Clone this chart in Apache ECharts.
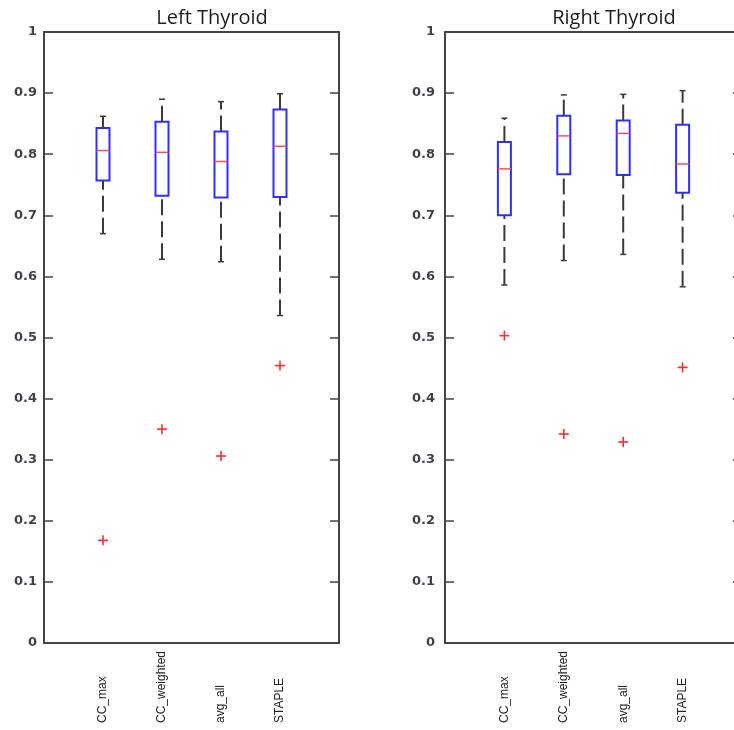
<!DOCTYPE html>
<html>
<head>
<meta charset="utf-8">
<script src="https://cdn.jsdelivr.net/npm/echarts@6/dist/echarts.min.js"></script>
<style>
  html, body { margin: 0; padding: 0; background: #fff; }
  #chart { width: 734px; height: 730px; }
</style>
</head>
<body>
<div id="chart"></div>
<script>
// categories on the x axis (placed at 1..4, axis runs 0..5)
var categories = ["CC_max", "CC_weighted", "avg_all", "STAPLE"];
var yTicks = [0, 0.1, 0.2, 0.3, 0.4, 0.5, 0.6, 0.7, 0.8, 0.9, 1];

// Left Thyroid
var leftMin = [0.670, 0.628, 0.624, 0.536];
var leftQ1 = [0.757, 0.732, 0.729, 0.730];
var leftMed = [0.806, 0.803, 0.788, 0.813];
var leftQ3 = [0.843, 0.853, 0.837, 0.873];
var leftMax = [0.862, 0.890, 0.886, 0.899];
var leftOut = [0.168, 0.350, 0.306, 0.454];

// Right Thyroid
var rightMin = [0.586, 0.626, 0.636, 0.583];
var rightQ1 = [0.700, 0.767, 0.766, 0.737];
var rightMed = [0.776, 0.830, 0.834, 0.784];
var rightQ3 = [0.820, 0.863, 0.855, 0.848];
var rightMax = [0.859, 0.897, 0.898, 0.904];
var rightOut = [0.503, 0.342, 0.329, 0.451];

var frameColor = "#444";
var boxColor = "#2e2eff";
var medColor = "#ff4d4d";
var whiskColor = "#3a3a3a";

function boxData(mins, q1, med, q3, maxs) {
  return categories.map(function (c, i) {
    return [i + 1, mins[i], q1[i], med[i], q3[i], maxs[i]];
  });
}

function outData(vals) {
  return vals.map(function (v, i) { return [i + 1, v]; });
}

function renderBox(params, api) {
  var xv = api.value(0);
  var x = api.coord([xv, 0])[0];
  var yMin = api.coord([xv, api.value(1)])[1];
  var yQ1 = api.coord([xv, api.value(2)])[1];
  var yMed = api.coord([xv, api.value(3)])[1];
  var yQ3 = api.coord([xv, api.value(4)])[1];
  var yMax = api.coord([xv, api.value(5)])[1];
  var hw = 6.5;
  var whisk = { stroke: whiskColor, lineWidth: 2, lineDash: [16, 6] };
  var cap = { stroke: whiskColor, lineWidth: 1.5 };
  return {
    type: "group",
    children: [
      { type: "line", shape: { x1: x, y1: yMin, x2: x, y2: yQ1 }, style: whisk },
      { type: "line", shape: { x1: x, y1: yQ3, x2: x, y2: yMax }, style: whisk },
      { type: "line", shape: { x1: x - 3, y1: yMin, x2: x + 3, y2: yMin }, style: cap },
      { type: "line", shape: { x1: x - 3, y1: yMax, x2: x + 3, y2: yMax }, style: cap },
      { type: "rect", shape: { x: x - hw, y: yQ3, width: hw * 2, height: yQ1 - yQ3 },
        style: { fill: "none", stroke: boxColor, lineWidth: 2 } },
      { type: "line", shape: { x1: x - hw, y1: yMed, x2: x + hw, y2: yMed },
        style: { stroke: medColor, lineWidth: 1.5 } }
    ]
  };
}

function renderPlus(params, api) {
  var p = api.coord([api.value(0), api.value(1)]);
  var s = { stroke: "#ff2a2a", lineWidth: 1.6 };
  return {
    type: "group",
    children: [
      { type: "line", shape: { x1: p[0] - 5, y1: p[1], x2: p[0] + 5, y2: p[1] }, style: s },
      { type: "line", shape: { x1: p[0], y1: p[1] - 5, x2: p[0], y2: p[1] + 5 }, style: s }
    ]
  };
}

function xAxisFor(idx) {
  return {
    type: "value", gridIndex: idx, min: 0, max: 5, interval: 1,
    axisLine: { show: false }, axisTick: { show: false }, splitLine: { show: false },
    axisLabel: {
      rotate: 90, align: "left", verticalAlign: "middle", margin: 80,
      fontFamily: "'Liberation Sans Narrow', 'Arial Narrow', 'Liberation Sans', sans-serif",
      fontSize: 12, color: "#222",
      formatter: function (v) { return categories[v - 1] || ""; }
    }
  };
}

function yAxisFor(idx, margin) {
  return [{
    type: "value", gridIndex: idx, min: 0, max: 1, interval: 0.1,
    axisLine: { show: false },
    axisTick: { show: true, inside: true, length: 9, lineStyle: { color: frameColor, width: 1.5 } },
    splitLine: { show: false },
    axisLabel: {
      margin: margin, fontFamily: "DejaVu Sans", fontWeight: "bold", fontSize: 13, color: "#41414c",
      formatter: function (v) { return yTicks.indexOf(Math.round(v * 10) / 10) >= 0 ? String(Math.round(v * 10) / 10) : ""; }
    }
  }, {
    type: "value", gridIndex: idx, min: 0, max: 1, interval: 0.1, position: "right",
    axisLine: { show: false },
    axisTick: { show: true, inside: true, length: 9, lineStyle: { color: frameColor, width: 1.5 } },
    splitLine: { show: false }, axisLabel: { show: false }
  }];
}

var chart = echarts.init(document.getElementById("chart"), null, { renderer: "canvas" });

var option = {
  animation: false,
  backgroundColor: "#fff",
  title: [
    { text: "Left Thyroid", left: 207, top: 3, textAlign: "center",
      textStyle: { fontFamily: "Open Sans", fontSize: 20, fontWeight: 500, color: "#1e1e1e" } },
    { text: "Right Thyroid", left: 609, top: 3, textAlign: "center",
      textStyle: { fontFamily: "Open Sans", fontSize: 20, fontWeight: 500, color: "#1e1e1e" } }
  ],
  grid: [
    { left: 44, top: 32, width: 295, height: 611, show: true, borderColor: frameColor, borderWidth: 2,
      backgroundColor: "transparent", outerBoundsMode: "none" },
    { left: 445, top: 32, width: 297, height: 611, show: true, borderColor: frameColor, borderWidth: 2,
      backgroundColor: "transparent", outerBoundsMode: "none" }
  ],
  xAxis: [xAxisFor(0), xAxisFor(1)],
  yAxis: yAxisFor(0, 7).concat(yAxisFor(1, 10)),
  series: [
    { type: "custom", xAxisIndex: 0, yAxisIndex: 0, renderItem: renderBox,
      data: boxData(leftMin, leftQ1, leftMed, leftQ3, leftMax) },
    { type: "custom", xAxisIndex: 0, yAxisIndex: 0, renderItem: renderPlus, data: outData(leftOut) },
    { type: "custom", xAxisIndex: 1, yAxisIndex: 2, renderItem: renderBox,
      data: boxData(rightMin, rightQ1, rightMed, rightQ3, rightMax) },
    { type: "custom", xAxisIndex: 1, yAxisIndex: 2, renderItem: renderPlus, data: outData(rightOut) }
  ]
};

chart.setOption(option);
</script>
</body>
</html>
